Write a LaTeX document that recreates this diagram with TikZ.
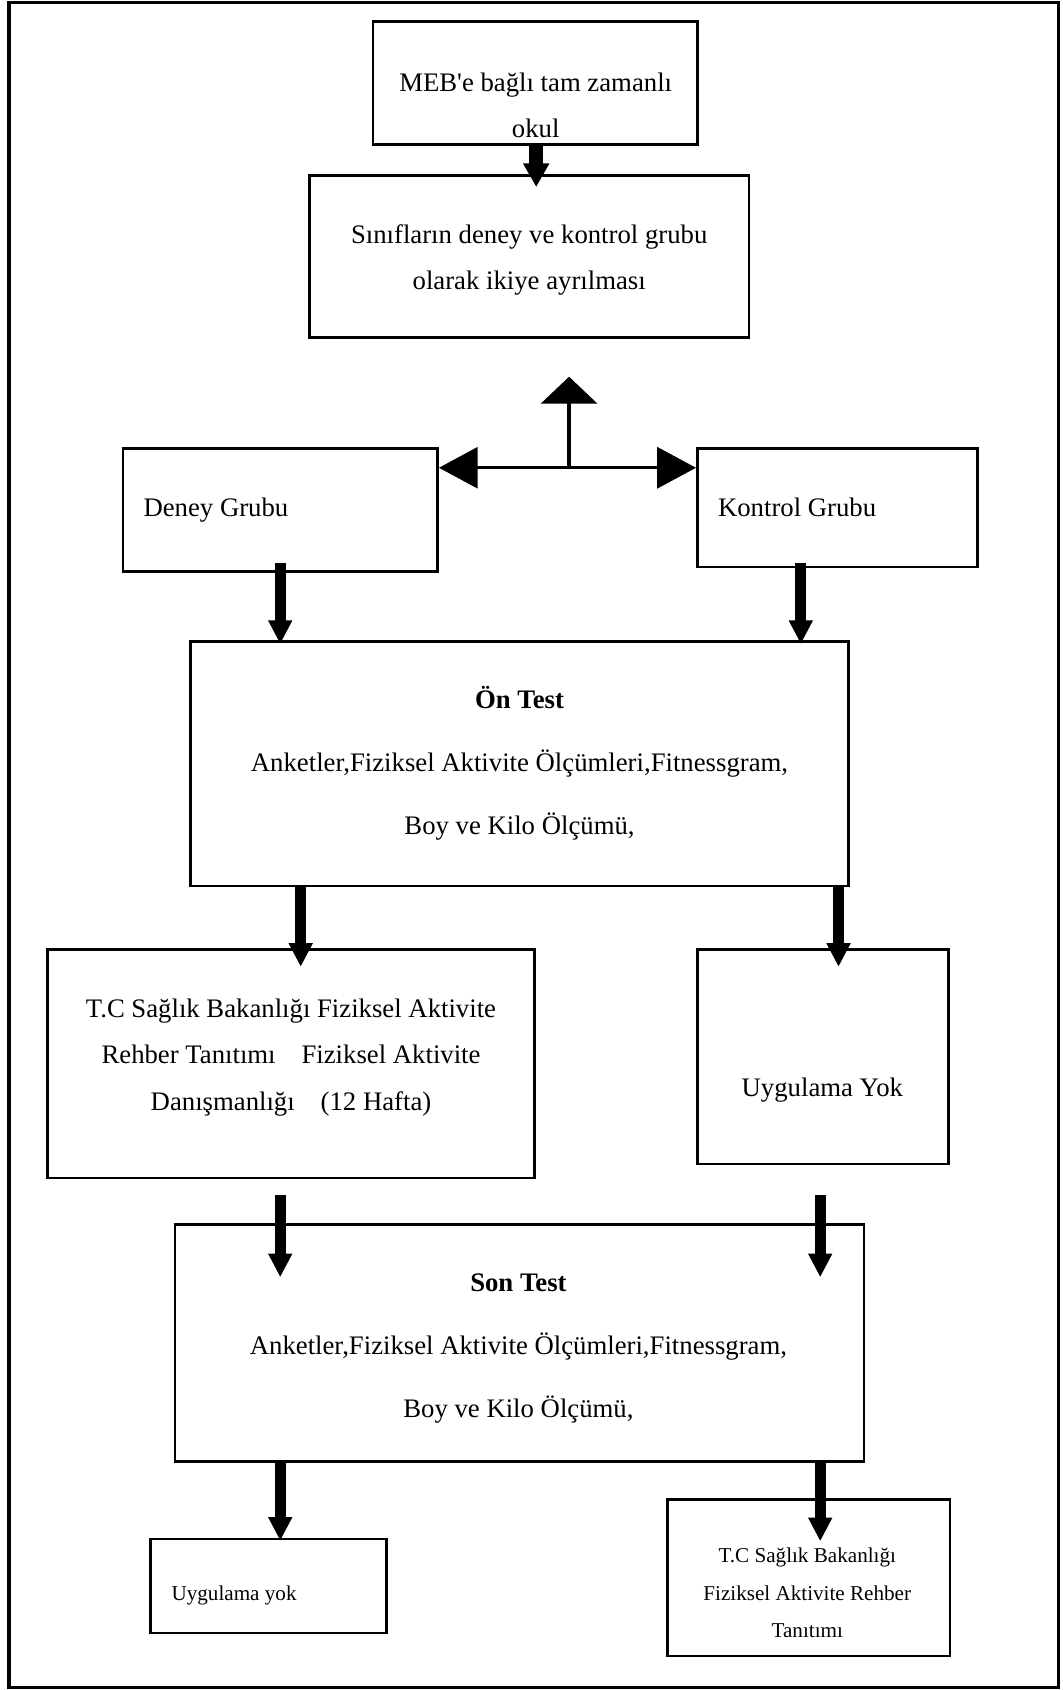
\documentclass[tikz,border=0pt]{standalone}
\usepackage{fontspec}
\setmainfont{Liberation Serif}[Ligatures=TeXOff]
\usetikzlibrary{arrows.meta}
\begin{document}
\begin{tikzpicture}[x=1pt,y=-1pt,
  box/.style={draw, line width=2.5pt, inner sep=0pt, rectangle},
  txt/.style={inner sep=0pt, align=center, font=\fontsize{24.8pt}{43pt}\selectfont},
  txtwide/.style={inner sep=0pt, align=center, font=\fontsize{24.8pt}{58.5pt}\selectfont},
  txtsmall/.style={inner sep=0pt, align=center, font=\fontsize{19.6pt}{34.7pt}\selectfont},
  bigarrow/.style={line width=10pt, -{Triangle[length=22pt, width=21pt]}},
  topArrow/.style={line width=13pt, -{Triangle[length=22pt, width=23pt]}},
  thinline/.style={line width=3pt},
]
\useasboundingbox (0,0) rectangle (986,1568);
% outer frame
\draw[line width=3pt] (8.3,2.3) rectangle (982,1566);

% boxes
\node[box, minimum width=301pt, minimum height=114pt] (meb) at (496.5,77) {};
\node[box, minimum width=408pt, minimum height=150pt] (sinif) at (491,238) {};
\node[box, minimum width=292pt, minimum height=114pt] (deney) at (260,473) {};
\node[box, minimum width=260pt, minimum height=110pt] (kontrol) at (777,471) {};
\node[box, minimum width=610pt, minimum height=227pt] (on) at (482,708.5) {};
\node[box, minimum width=452pt, minimum height=212pt] (tc) at (270,987) {};
\node[box, minimum width=233pt, minimum height=199pt] (uyg) at (763.5,980.5) {};
\node[box, minimum width=639pt, minimum height=220pt] (son) at (482,1246) {};
\node[box, minimum width=219pt, minimum height=87pt] (uygb) at (249,1471.5) {};
\node[box, minimum width=262pt, minimum height=145pt] (tcb) at (750.5,1464) {};

% texts
\node[txt] (mebt) at (497,97.5) {MEB'e bağlı tam\ zamanlı\\okul};
\node[txt] (sinift) at (491,241) {Sınıfların deney ve kontrol grubu\\olarak ikiye ayrılması};
\node[txt, anchor=west] (deneyt) at (133,473) {Deney Grubu};
\node[txt, anchor=west] (kontrolt) at (666,470.5) {Kontrol Grubu};
\node[txtwide] (ont) at (482,708.5) {\textbf{Ön Test}\\Anketler,Fiziksel Aktivite Ölçümleri,Fitnessgram,\\Boy ve Kilo Ölçümü,};
\node[txt] (tct) at (270,981) {T.C Sağlık Bakanlığı Fiziksel Aktivite\\Rehber Tanıtımı\hspace{0.97em}Fiziksel Aktivite\\Danışmanlığı\hspace{0.97em}(12 Hafta)};
\node[txt] (uygt) at (763,1011) {Uygulama Yok};
\node[txtwide] (sont) at (481,1251.5) {\textbf{Son Test}\\Anketler,Fiziksel Aktivite Ölçümleri,Fitnessgram,\\Boy ve Kilo Ölçümü,};
\node[txtsmall, anchor=west] (uygbt) at (159,1480) {Uygulama yok};
\node[txtsmall] (tcbt) at (749,1478) {T.C Sağlık Bakanlığı\\Fiziksel Aktivite Rehber\\Tanıtımı};

% connectors
\coordinate (a1s) at (497.5,134);   \coordinate (a1e) at (497.5,173.5);
\draw[topArrow] (a1s) -- (a1e);

\coordinate (hub) at (528,434);
\coordinate (uptip) at (528,349.5);
\draw[thinline, -{Triangle[length=25pt, width=52pt]}] (hub) -- (uptip);
\draw[thinline, {Triangle[length=36pt, width=38pt]}-{Triangle[length=36pt, width=38pt]}]
  (deney.east |- hub) -- (kontrol.west |- hub);

\coordinate (b1s) at (260,522);  \coordinate (b1e) at (260,597.5);
\coordinate (b2s) at (743,522);  \coordinate (b2e) at (743,597.5);
\draw[bigarrow] (b1s) -- (b1e);
\draw[bigarrow] (b2s) -- (b2e);

\coordinate (c1s) at (279,822);  \coordinate (c1e) at (279,897);
\coordinate (c2s) at (778,822);  \coordinate (c2e) at (778,897);
\draw[bigarrow] (c1s) -- (c1e);
\draw[bigarrow] (c2s) -- (c2e);

\coordinate (d1s) at (260,1109);  \coordinate (d1e) at (260,1185);
\coordinate (d2s) at (761,1109);  \coordinate (d2e) at (761,1185);
\draw[bigarrow] (d1s) -- (d1e);
\draw[bigarrow] (d2s) -- (d2e);

\coordinate (e1s) at (260,1356);  \coordinate (e1e) at (260,1429.5);
\coordinate (e2s) at (761,1356);  \coordinate (e2e) at (761,1430);
\draw[bigarrow] (e1s) -- (e1e);
\draw[bigarrow] (e2s) -- (e2e);
\end{tikzpicture}
\end{document}
